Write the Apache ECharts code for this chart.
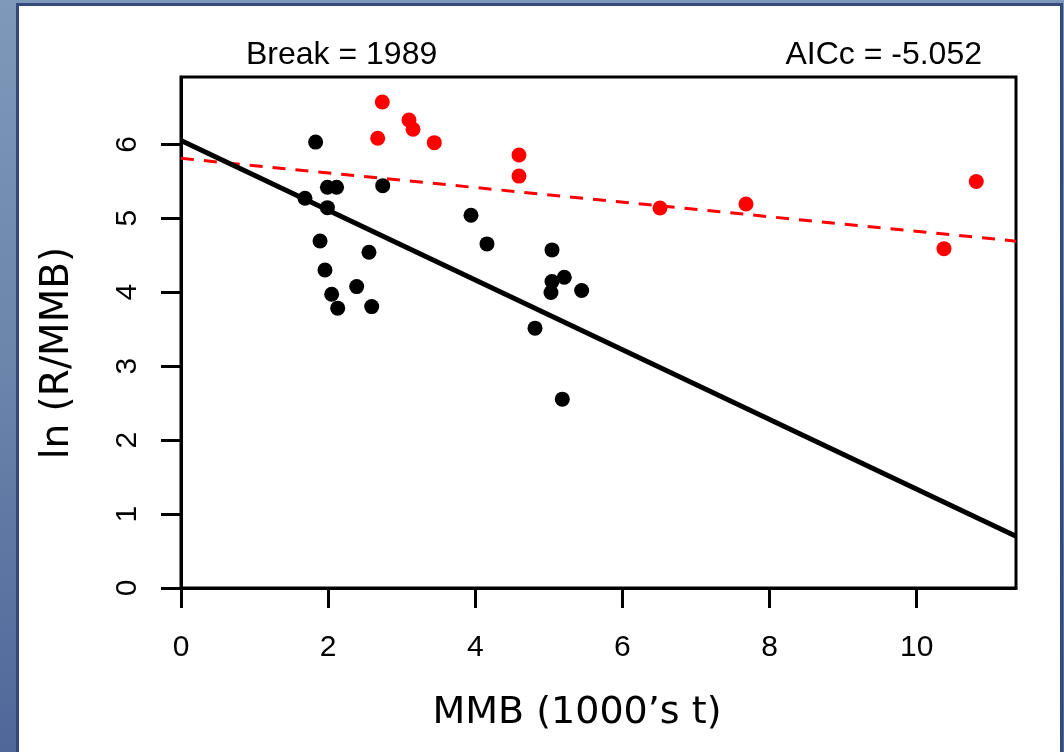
<!DOCTYPE html>
<html>
<head>
<meta charset="utf-8">
<script src="https://cdn.jsdelivr.net/npm/echarts@6/dist/echarts.min.js"></script>
<style>
  html, body { margin: 0; padding: 0; width: 1064px; height: 752px; overflow: hidden;
    background: linear-gradient(180deg, #7f99bb 0%, #6a84aa 50%, #50679a 100%); }
  #frame { position: absolute; left: 16px; top: 3px; width: 1047px; height: 749px;
    background: #ffffff; border: 3px solid #34497c; border-bottom: none; box-sizing: border-box; }
  #chart { position: absolute; left: 0; top: 0; width: 1064px; height: 752px; }
</style>
</head>
<body>
<div id="frame"></div>
<div id="chart"></div>
<script>
// ---- data ----
const blackX = [1.83, 1.685, 1.99, 2.115, 1.99, 1.89, 1.957, 2.048, 2.13, 2.388, 2.555, 2.592, 2.742,
                3.942, 4.159, 5.043, 5.21, 5.043, 5.029, 5.446, 4.812, 5.183];
const blackY = [6.03, 5.27, 5.42, 5.42, 5.143, 4.693, 4.301, 3.973, 3.784, 4.076, 4.541, 3.805, 5.441,
                5.041, 4.653, 4.572, 4.203, 4.143, 3.995, 4.022, 3.514, 2.554];
const redX = [2.736, 3.099, 3.154, 2.674, 3.443, 4.594, 4.594, 6.511, 7.68, 10.371, 10.81];
const redY = [6.572, 6.328, 6.203, 6.081, 6.022, 5.855, 5.57, 5.139, 5.193, 4.589, 5.497];
const fitX = [0, 11.35];
const blackFitY = [6.05, 0.70];
const redFitY = [5.81, 4.69];
const xTicks = [0, 2, 4, 6, 8, 10];
const yTicks = [0, 1, 2, 3, 4, 5, 6];
const leftLabel = 'Break = 1989';
const rightLabel = 'AICc = -5.052';
const xTitle = 'MMB (1000\u2019s t)';
const yTitle = 'ln (R/MMB)';

const pairs = (xs, ys) => xs.map((x, i) => [x, ys[i]]);

const chart = echarts.init(document.getElementById('chart'), null, { renderer: 'canvas' });
const tickFont = 'Liberation Sans, Arial, sans-serif';
const titleFont = 'DejaVu Sans, sans-serif';

chart.setOption({
  animation: false,
  backgroundColor: 'transparent',
  grid: { left: 181, right: 48, top: 77, bottom: 164, show: true, borderColor: '#000', borderWidth: 3,
          backgroundColor: 'transparent' },
  xAxis: {
    type: 'value', min: 0, max: 11.35, interval: 2,
    axisLine: { show: true, onZero: false, lineStyle: { color: '#000', width: 3 } },
    axisTick: { show: true, length: 20, customValues: xTicks, lineStyle: { color: '#000', width: 3 } },
    axisLabel: { customValues: xTicks, margin: 45, color: '#000', fontSize: 30, fontFamily: tickFont },
    splitLine: { show: false }
  },
  yAxis: {
    type: 'value', min: 0, max: 6.91, interval: 1,
    axisLine: { show: true, onZero: false, lineStyle: { color: '#000', width: 3 } },
    axisTick: { show: true, length: 20, customValues: yTicks, lineStyle: { color: '#000', width: 3 } },
    axisLabel: { customValues: yTicks, rotate: 90, margin: 38, color: '#000', fontSize: 30, fontFamily: tickFont },
    splitLine: { show: false }
  },
  graphic: [
    { type: 'text', x: 246, y: 55, style: { text: leftLabel, fill: '#000', font: '32px ' + tickFont,
        align: 'left', verticalAlign: 'middle', textAlign: 'left', textVerticalAlign: 'middle' } },
    { type: 'text', x: 982, y: 55, style: { text: rightLabel, fill: '#000', font: '32px ' + tickFont,
        align: 'right', verticalAlign: 'middle', textAlign: 'right', textVerticalAlign: 'middle' } },
    { type: 'text', x: 577, y: 713, style: { text: xTitle, fill: '#000', font: '38px ' + titleFont,
        align: 'center', verticalAlign: 'middle', textAlign: 'center', textVerticalAlign: 'middle' } },
    { type: 'text', x: 58, y: 353, rotation: Math.PI / 2, style: { text: yTitle, fill: '#000', font: '39px ' + titleFont,
        align: 'center', verticalAlign: 'middle', textAlign: 'center', textVerticalAlign: 'middle' } }
  ],
  series: [
    { type: 'scatter', data: pairs(blackX, blackY), symbol: 'circle', symbolSize: 15,
      itemStyle: { color: '#000', opacity: 1 }, z: 3 },
    { type: 'scatter', data: pairs(redX, redY), symbol: 'circle', symbolSize: 15,
      itemStyle: { color: '#ff0000', opacity: 1 }, z: 3 },
    { type: 'line', data: pairs(fitX, redFitY), showSymbol: false, symbol: 'none',
      lineStyle: { color: '#ff0000', width: 3, type: [13, 10] }, z: 4 },
    { type: 'line', data: pairs(fitX, blackFitY), showSymbol: false, symbol: 'none',
      lineStyle: { color: '#000', width: 5 }, z: 4 }
  ]
});
</script>
</body>
</html>
